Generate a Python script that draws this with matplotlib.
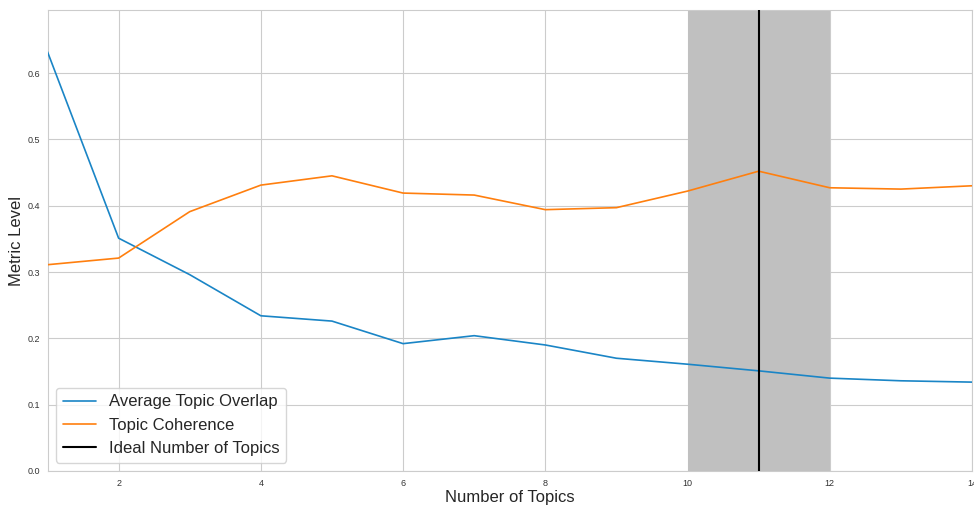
import matplotlib
matplotlib.use("Agg")
import matplotlib.pyplot as plt
import seaborn as sns

topics = [1, 2, 3, 4, 5, 6, 7, 8, 9, 10, 11, 12, 13, 14]
overlap = [0.632, 0.351, 0.296, 0.234, 0.226, 0.192, 0.204, 0.190, 0.170, 0.161, 0.151, 0.140, 0.136, 0.134]
coherence = [0.311, 0.321, 0.391, 0.431, 0.445, 0.419, 0.416, 0.394, 0.397, 0.422, 0.452, 0.427, 0.425, 0.430]
ideal = 11
span_range = (10, 12)

sns.set_style("whitegrid")
plt.rcParams['font.family'] = ['Liberation Sans', 'DejaVu Sans']

fig = plt.figure(figsize=(9.74, 5.08), dpi=100)
ax = fig.add_axes([47.5 / 974, 37 / 508, (972 - 47.5) / 974, (498 - 37) / 508])

ax.axvspan(span_range[0], span_range[1], color='#c0c0c0', zorder=1, lw=0)
ax.plot(topics, overlap, color='#1a85c6', lw=1.2, label='Average Topic Overlap', zorder=3)
ax.plot(topics, coherence, color='#ff7f0e', lw=1.2, label='Topic Coherence', zorder=3)
ax.axvline(ideal, color='black', lw=1.5, label='Ideal Number of Topics', zorder=4)

ax.set_xlim(1, 14)
ax.set_ylim(0, 0.695)
ax.set_xticks([2, 4, 6, 8, 10, 12, 14])
ax.set_yticks([0.0, 0.1, 0.2, 0.3, 0.4, 0.5, 0.6])
ax.tick_params(labelsize=6.5, colors='#333333', pad=2)
ax.set_xlabel('Number of Topics', fontsize=12, labelpad=2)
ax.set_ylabel('Metric Level', fontsize=12, labelpad=2)
ax.legend(loc='lower left', fontsize=12)

fig.savefig('out.png', dpi=100)
